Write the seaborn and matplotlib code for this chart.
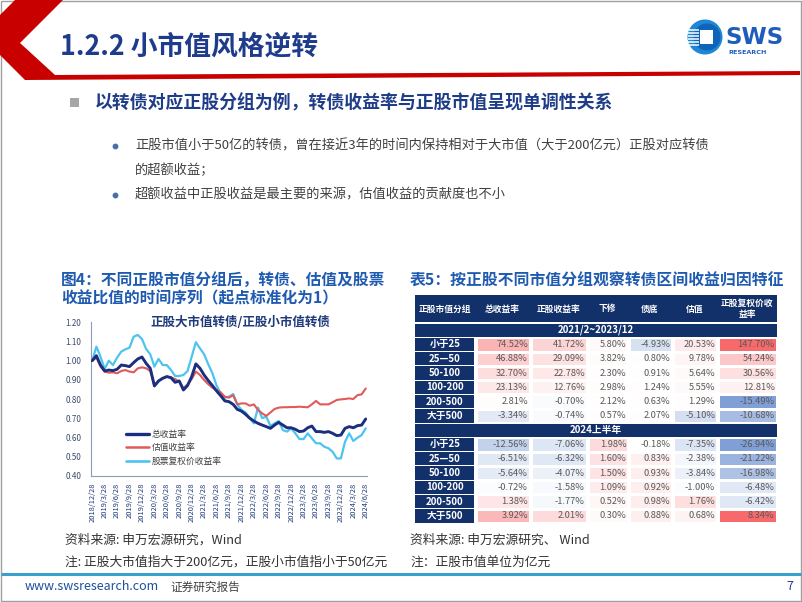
import numpy as np
import pandas as pd
import matplotlib
matplotlib.use('Agg')
import matplotlib.pyplot as plt
from matplotlib.patches import Polygon, Rectangle, Circle
from matplotlib.colors import LinearSegmentedColormap
from matplotlib.lines import Line2D
import seaborn as sns

# ---------------- data: line chart ----------------
tick_dates = ['2018/12/28', '2019/3/28', '2019/6/28', '2019/9/28', '2019/12/28',
              '2020/3/28', '2020/6/28', '2020/9/28', '2020/12/28', '2021/3/28',
              '2021/6/28', '2021/9/28', '2021/12/28', '2022/3/28', '2022/6/28',
              '2022/9/28', '2022/12/28', '2023/3/28', '2023/6/28', '2023/9/28',
              '2023/12/28', '2024/3/28', '2024/6/28']

total_ret = [1.00, 1.026, 0.977, 0.946, 0.951, 0.948, 0.955, 0.977, 0.974, 0.969,
             0.99, 1.009, 1.019, 0.986, 0.96, 0.868, 0.894, 0.908, 0.917, 0.911,
             0.887, 0.894, 0.847, 0.870, 0.917, 0.983, 0.96, 0.925, 0.896, 0.87,
             0.842, 0.817, 0.79, 0.786, 0.772, 0.746, 0.737, 0.72, 0.70, 0.685,
             0.673, 0.664, 0.656, 0.647, 0.664, 0.678, 0.664, 0.65, 0.65, 0.642,
             0.63, 0.633, 0.65, 0.659, 0.63, 0.63, 0.626, 0.63, 0.621, 0.609,
             0.612, 0.647, 0.656, 0.65, 0.661, 0.664, 0.696]

valuation_ret = [1.00, 1.016, 0.969, 0.943, 0.937, 0.939, 0.934, 0.946, 0.951, 0.943,
                 0.939, 0.96, 0.965, 0.96, 0.946, 0.870, 0.894, 0.908, 0.917, 0.913,
                 0.904, 0.89, 0.856, 0.877, 0.904, 0.943, 0.925, 0.899, 0.877, 0.859,
                 0.847, 0.835, 0.812, 0.807, 0.82, 0.772, 0.777, 0.777, 0.765, 0.772,
                 0.743, 0.725, 0.712, 0.73, 0.748, 0.755, 0.757, 0.757, 0.758, 0.758,
                 0.76, 0.758, 0.757, 0.772, 0.79, 0.772, 0.772, 0.772, 0.783, 0.795,
                 0.798, 0.80, 0.803, 0.80, 0.82, 0.824, 0.855]

stock_ret = [1.00, 1.073, 1.02, 0.957, 1.00, 0.977, 1.016, 1.047, 1.059, 1.068,
             1.125, 1.134, 1.113, 1.061, 1.033, 0.969, 1.009, 0.977, 0.977, 0.951,
             0.92, 0.92, 0.925, 0.946, 1.021, 1.096, 1.064, 1.033, 0.981, 0.934,
             0.87, 0.83, 0.807, 0.812, 0.826, 0.772, 0.743, 0.73, 0.70, 0.673,
             0.755, 0.70, 0.708, 0.659, 0.673, 0.685, 0.638, 0.63, 0.647, 0.621,
             0.591, 0.591, 0.621, 0.595, 0.569, 0.569, 0.551, 0.543, 0.525, 0.49,
             0.49, 0.577, 0.621, 0.581, 0.598, 0.612, 0.647]

series_names = ['总收益率', '估值收益率', '股票复权价收益率']

# ---------------- data: table ----------------
groups = ['小于25', '25—50', '50-100', '100-200', '200-500', '大于500']
columns = ['总收益率', '正股收益率', '下修', '债底', '估值', '正股复权价收\n益率']
period_names = ['2021/2~2023/12', '2024上半年']

p1_total = [74.52, 46.88, 32.70, 23.13, 2.81, -3.34]
p1_stock = [41.72, 29.09, 22.78, 12.76, -0.70, -0.74]
p1_down = [5.80, 3.82, 2.30, 2.98, 2.12, 0.57]
p1_floor = [-4.93, 0.80, 0.91, 1.24, 0.63, 2.07]
p1_val = [20.53, 9.78, 5.64, 5.55, 1.29, -5.10]
p1_adj = [147.70, 54.24, 30.56, 12.81, -15.49, -10.68]

p2_total = [-12.56, -6.51, -5.64, -0.72, 1.38, 3.92]
p2_stock = [-7.06, -6.32, -4.07, -1.58, -1.77, 2.01]
p2_down = [1.98, 1.60, 1.50, 1.09, 0.52, 0.30]
p2_floor = [-0.18, 0.83, 0.93, 0.92, 0.98, 0.88]
p2_val = [-7.35, -2.38, -3.84, -1.00, 1.76, 0.68]
p2_adj = [-26.94, -21.22, -16.98, -6.48, -6.42, 8.34]

# ---------------- setup ----------------
sns.set_theme(style='white')
plt.rcParams['font.family'] = ['Noto Sans CJK SC', 'DejaVu Sans']
plt.rcParams['axes.unicode_minus'] = False

W, H = 802, 602
fig = plt.figure(figsize=(W / 100, H / 100), dpi=100)
fig.patch.set_facecolor('white')


def px_axes(z):
    a = fig.add_axes([0, 0, 1, 1], zorder=z)
    a.set_xlim(0, W)
    a.set_ylim(H, 0)
    a.axis('off')
    a.patch.set_alpha(0)
    return a


def fx(x):
    return x / W


def fy(y):
    return 1 - y / H


NAVY = '#1F3C88'
TITLE_BLUE = '#1E5AAF'

bg = px_axes(0)
# slide border
bg.add_patch(Rectangle((0.5, 0.5), W - 1.5, H - 1.5, fill=False, ec='#A0A0A0', lw=1))
# red chevron + bar
bg.add_patch(Polygon([(15, 0), (63, 0), (20, 43), (55, 75), (800, 71), (800, 75),
                      (25, 80), (0, 55), (0, 15)], closed=True, color='#C80000', lw=0))
bg.text(60, 46, '1.2.2 小市值风格逆转', fontsize=19.3, color='#1F3C8C',
        va='center', ha='left', fontweight='bold')

# logo
bg.add_patch(Circle((705, 37), 17.5, color='#1E88D6', lw=0))
bg.add_patch(Circle((707, 37), 13.5, color='#0F63B8', lw=0))
bg.add_patch(Rectangle((700, 30), 13, 14, color='white', lw=0))
for yy in [30, 33, 36, 39, 42, 45]:
    bg.plot([688, 699], [yy, yy], color='white', lw=1.1, solid_capstyle='butt')
bg.text(725, 38, 'SWS', fontsize=16.5, fontweight='bold', color='#1F5DBA',
        va='center', ha='left', family='DejaVu Sans')
bg.text(728, 53, 'RESEARCH', fontsize=4.6, fontweight='bold', color='#1F5DBA',
        va='center', ha='left', family='DejaVu Sans')

# section header
bg.add_patch(Rectangle((70, 98), 9, 9, color='#A6A6A6', lw=0))
bg.text(95, 103, '以转债对应正股分组为例，转债收益率与正股市值呈现单调性关系',
        fontsize=12.9, fontweight='bold', color=NAVY, va='center', ha='left')

# bullets
TXT = '#404040'
bg.plot([115, 115], [146, 195], linestyle='none', marker='o', markersize=3.2,
        color='#4A6FA5')
bg.text(135, 146, '正股市值小于50亿的转债，曾在接近3年的时间内保持相对于大市值（大于200亿元）正股对应转债',
        fontsize=9.5, color=TXT, va='center', ha='left')
bg.text(135, 170, '的超额收益；', fontsize=9.5, color=TXT, va='center', ha='left')
bg.text(135, 195, '超额收益中正股收益是最主要的来源，估值收益的贡献度也不小',
        fontsize=9.5, color=TXT, va='center', ha='left')

# chart titles
bg.text(61, 280, '图4：不同正股市值分组后，转债、估值及股票', fontsize=11.3,
        fontweight='bold', color=TITLE_BLUE, va='center', ha='left')
bg.text(61, 298, '收益比值的时间序列（起点标准化为1）', fontsize=11.3,
        fontweight='bold', color=TITLE_BLUE, va='center', ha='left')
bg.text(410, 281, '表5：按正股不同市值分组观察转债区间收益归因特征', fontsize=11.4,
        fontweight='bold', color=TITLE_BLUE, va='center', ha='left')

# sources / notes
SRC = '#333333'
bg.text(65, 540, '资料来源: 申万宏源研究，Wind', fontsize=9.2, color=SRC, va='center', ha='left')
bg.text(65, 562, '注: 正股大市值指大于200亿元，正股小市值指小于50亿元', fontsize=9.2,
        color=SRC, va='center', ha='left')
bg.text(410, 540, '资料来源: 申万宏源研究、 Wind', fontsize=9.2, color=SRC, va='center', ha='left')
bg.text(410, 562, '注：正股市值单位为亿元', fontsize=9.2, color=SRC, va='center', ha='left')

# footer
bg.plot([1, W - 1], [574, 574], color='#3AA0CC', lw=2.2, solid_capstyle='butt')
bg.text(25, 587, 'www.swsresearch.com', fontsize=9, color='#1F4E9A', va='center', ha='left')
bg.text(170, 587, '证券研究报告', fontsize=8.4, color=TXT, va='center', ha='left')
bg.text(790, 587, '7', fontsize=9, color=NAVY, va='center', ha='center')

# ---------------- line chart ----------------
n = len(total_ret)
df = pd.DataFrame({
    'month': list(range(n)) * 3,
    'value': total_ret + valuation_ret + stock_ret,
    'series': [series_names[0]] * n + [series_names[1]] * n + [series_names[2]] * n,
})
y_top, y_bot = 322.3, 475.7
x_left, x_right = 91, 367
ax = fig.add_axes([fx(x_left), fy(y_bot), fx(x_right - x_left), (y_bot - y_top) / H], zorder=2)
ax.patch.set_alpha(0)
colors = {series_names[0]: '#1B2F7E', series_names[1]: '#E05A5A', series_names[2]: '#4DC4F0'}
widths = {series_names[0]: 2.1, series_names[1]: 1.5, series_names[2]: 1.6}
zorders = {series_names[0]: 4, series_names[1]: 3, series_names[2]: 2}
for name in series_names:
    sns.lineplot(data=df[df['series'] == name], x='month', y='value', color=colors[name],
                 linewidth=widths[name], ax=ax, zorder=zorders[name], legend=False)
ax.set_xlim(-0.3, n - 1 + 0.3)
ax.set_ylim(0.40, 1.20)
ax.set_yticks(np.arange(0.40, 1.201, 0.10))
ax.set_yticklabels([f'{v:.2f}' for v in np.arange(0.40, 1.201, 0.10)])
ax.set_xticks(list(range(0, n, 3)))
ax.set_xticklabels(tick_dates, rotation=90)
ax.set_xlabel('')
ax.set_ylabel('')
for s in ['top', 'right']:
    ax.spines[s].set_visible(False)
for s in ['left', 'bottom']:
    ax.spines[s].set_color('#8C9BB8')
    ax.spines[s].set_linewidth(0.8)
ax.tick_params(axis='y', labelsize=5.8, colors='#8C9BB8', labelcolor='#3A4A6B',
               direction='out', length=3, width=0.6, pad=4)
ax.tick_params(axis='x', labelsize=5.4, colors='#8C9BB8', labelcolor='#1F3A7A',
               direction='out', length=3, width=0.6, pad=2)
ax.grid(False)
ax.text(0.54, 1.0, '正股大市值转债/正股小市值转债', transform=ax.transAxes,
        fontsize=9, fontweight='bold', color='#1F3A7A', ha='center', va='center')
handles = [Line2D([], [], color=colors[nm], lw=widths[nm] + 0.3) for nm in series_names]
ax.legend(handles, series_names, loc='lower left', bbox_to_anchor=(0.1, 0.01),
          frameon=False, fontsize=6.3, handlelength=2.6, labelspacing=0.55,
          handletextpad=0.3, labelcolor='#404040')

# ---------------- table ----------------
sec1 = np.array([p1_total, p1_stock, p1_down, p1_floor, p1_val, p1_adj]).T
sec2 = np.array([p2_total, p2_stock, p2_down, p2_floor, p2_val, p2_adj]).T


def scale(m):
    return np.where(m >= 0, m / m.max(), m / -m.min())


nan_row = np.full((1, 6), np.nan)
values = np.vstack([nan_row, sec1, nan_row, sec2])
normed = np.vstack([nan_row, scale(sec1), nan_row, scale(sec2)])
labels = np.where(np.isnan(values), '', np.char.mod('%.2f%%', np.nan_to_num(values)))

cmap = LinearSegmentedColormap.from_list('rwb', ['#7F9FD6', '#FFFFFF', '#F8696B'])
tx = [415, 475, 530, 587, 628, 672, 717, 777]
t_top, t_head, t_bot = 295, 323, 523
n_rows = values.shape[0]
row_h = (t_bot - t_head) / n_rows

for j in range(6):
    x0, x1 = tx[j + 1], tx[j + 2]
    cax = fig.add_axes([fx(x0 + 0.5), fy(t_bot), fx(x1 - x0 - 1), (t_bot - t_head) / H], zorder=2)
    sns.heatmap(normed[:, [j]], mask=np.isnan(normed[:, [j]]), cmap=cmap, vmin=-1, vmax=1,
                annot=labels[:, [j]], fmt='', cbar=False, linewidths=1.0, linecolor='white',
                annot_kws=dict(size=6.7, color='#595959'), xticklabels=False,
                yticklabels=False, ax=cax)
    for t in cax.texts:
        t.set_ha('right')
        t.set_x(0.97)

fg = px_axes(6)
HEAD = '#12306A'
fg.add_patch(Rectangle((tx[0], t_top), tx[-1] - tx[0], t_head - t_top - 1, color=HEAD, lw=0))
for j, col in enumerate(columns):
    cx = (tx[j + 1] + tx[j + 2]) / 2
    fg.text(cx, (t_top + t_head) / 2, col, fontsize=6.3, fontweight='bold', color='white',
            ha='center', va='center', linespacing=1.25)
fg.text((tx[0] + tx[1]) / 2, (t_top + t_head) / 2, '正股市值分组', fontsize=6.3,
        fontweight='bold', color='white', ha='center', va='center')

row_labels = [period_names[0]] + groups + [period_names[1]] + groups
for i, lab in enumerate(row_labels):
    y0 = t_head + i * row_h
    if i in (0, 7):
        fg.add_patch(Rectangle((tx[0], y0 + 0.5), tx[-1] - tx[0], row_h - 1, color=HEAD, lw=0))
        fg.text((tx[0] + tx[-1]) / 2, y0 + row_h / 2, lab, fontsize=7, fontweight='bold',
                color='white', ha='center', va='center')
    else:
        fg.add_patch(Rectangle((tx[0], y0 + 0.5), tx[1] - tx[0] - 1, row_h - 1, color=HEAD, lw=0))
        fg.text((tx[0] + tx[1]) / 2, y0 + row_h / 2, lab, fontsize=7, fontweight='bold',
                color='white', ha='center', va='center')

fig.savefig('out.png', dpi=100, facecolor='white')
